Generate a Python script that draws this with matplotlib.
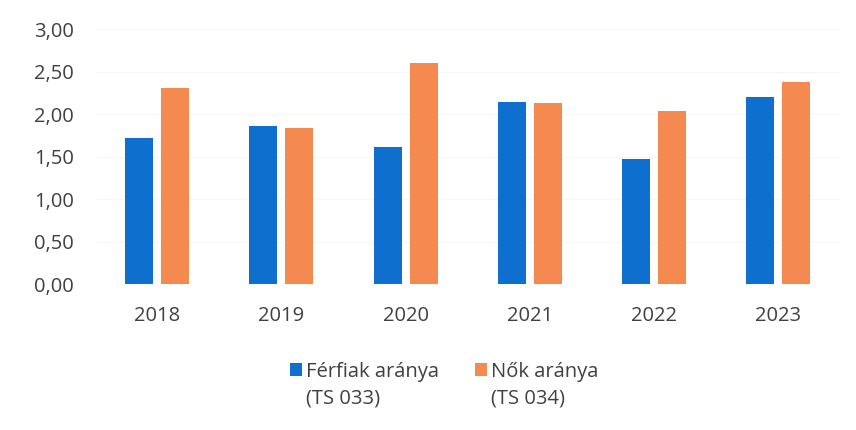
import matplotlib
matplotlib.use("Agg")
import matplotlib.pyplot as plt
import numpy as np
from matplotlib.patches import Rectangle
from matplotlib.legend_handler import HandlerPatch

years = ["2018", "2019", "2020", "2021", "2022", "2023"]
ferfiak = [1.72, 1.86, 1.61, 2.14, 1.47, 2.20]
nok = [2.31, 1.84, 2.60, 2.13, 2.04, 2.38]
series_labels = ["Férfiak aránya\n(TS 033)", "Nők aránya\n(TS 034)"]
yticks = [0.0, 0.5, 1.0, 1.5, 2.0, 2.5, 3.0]
ytick_labels = ["0,00", "0,50", "1,00", "1,50", "2,00", "2,50", "3,00"]

plt.rcParams['font.family'] = ['Open Sans', 'DejaVu Sans']
text_color = "#404040"
blue = "#0E6FCF"
orange = "#F48A50"

fig = plt.figure(figsize=(8.56, 4.30), dpi=100)
ax = fig.add_axes([0.111, 0.3395, 0.871, 0.593])

x = np.arange(len(years))
w = 0.225
off = 0.145
ax.bar(x - off, ferfiak, width=w, color=blue, zorder=3)
ax.bar(x + off, nok, width=w, color=orange, zorder=3)

ax.set_xlim(-0.5, len(years) - 0.5)
ax.set_ylim(0, 3.0)
ax.set_yticks(yticks)
ax.set_yticklabels(ytick_labels)
ax.set_xticks(x)
ax.set_xticklabels(years)
ax.tick_params(axis='both', length=0, labelsize=14.5, colors=text_color)
ax.tick_params(axis='y', pad=15)
ax.tick_params(axis='x', pad=16)
for s in ax.spines.values():
    s.set_visible(False)
ax.yaxis.grid(True, color="#f6f6f6", linewidth=0.8, zorder=0)
ax.set_axisbelow(True)


def top_square(legend, orig_handle, xdescent, ydescent, width, height, fontsize):
    return Rectangle((-xdescent, -ydescent + 0.8 * fontsize), width, height)


h1 = Rectangle((0, 0), 1, 1, facecolor=blue, edgecolor='none')
h2 = Rectangle((0, 0), 1, 1, facecolor=orange, edgecolor='none')
hm = {Rectangle: HandlerPatch(patch_func=top_square)}
leg = fig.legend(handles=[h1, h2], labels=series_labels, handler_map=hm,
                 loc='upper center', bbox_to_anchor=(0.519, 0.20),
                 ncol=2, frameon=False, fontsize=14.5, handlelength=0.62, handleheight=0.62,
                 handletextpad=0.2, columnspacing=1.75, labelcolor=text_color)
for t in leg.get_texts():
    t.set_linespacing(1.45)
fig.savefig("out.png", dpi=100)
